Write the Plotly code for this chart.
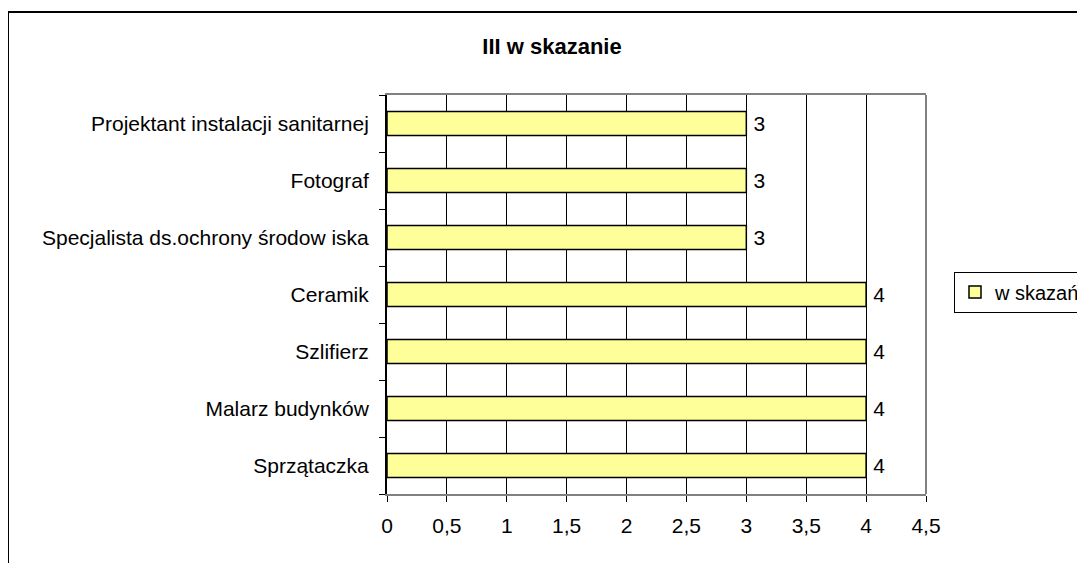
import plotly.graph_objects as go

categories = ["Sprzątaczka", "Malarz budynków", "Szlifierz", "Ceramik",
              "Specjalista ds.ochrony środow iska", "Fotograf",
              "Projektant instalacji sanitarnej"]
values = [4, 4, 4, 4, 3, 3, 3]
series_name = "w skazań"
title_text = "III w skazanie"
x_ticks = [0, 0.5, 1, 1.5, 2, 2.5, 3, 3.5, 4, 4.5]

W, H = 1085, 563
OFF = 8  # page body margin offset
L, R, T, B = 387 - OFF, 926 - OFF, 95 - OFF, 494 - OFF

FONT = "Liberation Sans, Arial, sans-serif"
FS = 21

fig = go.Figure()
fig.add_trace(go.Bar(
    y=categories, x=values, orientation="h", name=series_name,
    marker=dict(color="#FFFF99", line=dict(color="black", width=1.5)),
    text=["\u2009" + str(v) for v in values], textposition="outside",
    textfont=dict(size=FS, color="black", family=FONT),
    cliponaxis=False, showlegend=True,
))

pw, ph = R - L, B - T
def px(x):
    return (x - OFF - L) / pw
def py(y):
    return (B - (y - OFF)) / ph

fig.update_layout(
    width=W, height=H,
    margin=dict(l=L, r=W - R, t=T, b=H - B, pad=0, autoexpand=False),
    paper_bgcolor="white", plot_bgcolor="white",
    font=dict(family=FONT, size=FS, color="black"),
    separators=", ",
    bargap=0.58,
    title=dict(text="<b>" + title_text + "</b>", font=dict(size=22, family=FONT, color="black"),
               xref="container", x=(552 - OFF) / W, xanchor="center", yref="container",
               y=1 - (46 - OFF) / H, yanchor="middle"),
    xaxis=dict(range=[0, 4.5], tickvals=x_ticks, showgrid=True, gridcolor="black", gridwidth=1,
               zeroline=False, showline=True, linecolor="#808080", linewidth=2, mirror=True,
               ticks="outside", ticklen=6, tickcolor="black", tickwidth=1, automargin=False,
               tickfont=dict(size=FS, color="black"), ticklabelstandoff=6, fixedrange=True),
    yaxis=dict(type="category", showgrid=False, zeroline=False, showline=True, linecolor="black",
               linewidth=2, ticks="outside", tickson="boundaries", ticklen=6, tickcolor="black",
               automargin=False,
               tickfont=dict(size=FS, color="black"), ticklabelstandoff=12, fixedrange=True),
    legend=dict(xref="container", yref="container", x=(954 - OFF) / W, y=1 - (292 - OFF) / H,
                xanchor="left", yanchor="middle",
                bordercolor="black", borderwidth=1, bgcolor="white",
                font=dict(size=20, color="black"), itemwidth=30),
    shapes=[
        dict(type="line", xref="paper", yref="paper", x0=1, x1=1, y0=0, y1=1,
             line=dict(color="#808080", width=2)),
        dict(type="rect", xref="paper", yref="paper", x0=px(8), y0=py(12), x1=px(1110), y1=py(620),
             line=dict(color="black", width=2), fillcolor="rgba(0,0,0,0)"),
    ],
)

fig.write_html("out.html")
